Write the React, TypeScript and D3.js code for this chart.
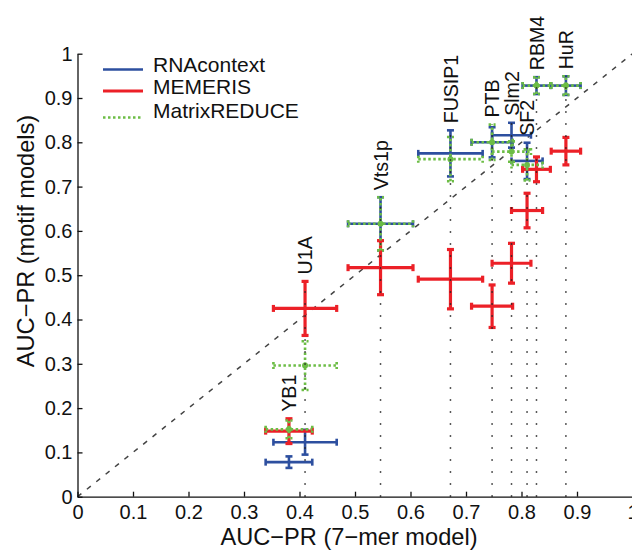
import React, { useEffect, useRef } from 'react';
import * as d3 from 'd3';

// Proteins and their 7-mer model AUC-PR (x) with x error
const proteins = ["YB1", "U1A", "Vts1p", "FUSIP1", "PTB", "Slm2", "SF2", "RBM4", "HuR"];
const kmerAuc = [0.381, 0.410, 0.546, 0.672, 0.747, 0.782, 0.810, 0.827, 0.880];
const kmerErr = [0.042, 0.057, 0.0585, 0.058, 0.037, 0.035, 0.028, 0.025, 0.0265];
const hasGuide = [false, true, true, true, true, true, true, true, true];

// Motif model AUC-PR (y) per method
const rnacontext = [0.078, 0.123, 0.616, 0.775, 0.800, 0.816, 0.758, 0.928, 0.928];
const rnacontextErr = [0.013, 0.028, 0.060, 0.052, 0.034, 0.028, 0.041, 0.019, 0.021];
const memeris = [0.148, 0.425, 0.517, 0.491, 0.430, 0.527, 0.646, 0.739, 0.780];
const memerisErr = [0.028, 0.061, 0.061, 0.067, 0.048, 0.045, 0.039, 0.028, 0.031];
const matrixReduce = [0.152, 0.296, 0.616, 0.762, 0.800, 0.779, 0.749, 0.928, 0.928];
const matrixReduceErr = [0.020, 0.055, 0.060, 0.050, 0.040, 0.023, 0.035, 0.019, 0.021];

const seriesNames = ["RNAcontext", "MEMERIS", "MatrixREDUCE"];
const xTicks = [0, 0.1, 0.2, 0.3, 0.4, 0.5, 0.6, 0.7, 0.8, 0.9, 1];
const yTicks = [0, 0.1, 0.2, 0.3, 0.4, 0.5, 0.6, 0.7, 0.8, 0.9, 1];

const FONT = '"Liberation Sans", Arial, sans-serif';

const App = () => {
    const svgRef = useRef<SVGSVGElement>(null);

    useEffect(() => {
        const svg = d3.select(svgRef.current);
        svg.selectAll("*").remove();

        const width = 632, height = 554;
        const x = d3.scaleLinear().domain([0, 1]).range([77.5, 632.5]);
        const y = d3.scaleLinear().domain([0, 1]).range([496.7, 53.7]);
        const fmt = (d: number) => String(+d.toFixed(1));

        svg.attr("width", width).attr("height", height);

        // Diagonal
        svg.append("line")
            .attr("x1", x(0)).attr("y1", y(0))
            .attr("x2", x(1)).attr("y2", y(1))
            .attr("stroke", "#444").attr("stroke-width", 1.5)
            .attr("stroke-dasharray", "5 7");

        const series = [
            { name: seriesNames[0], vals: rnacontext, errs: rnacontextErr, color: "#2d4f9f", w: 2.6, dash: null, marker: false },
            { name: seriesNames[1], vals: memeris, errs: memerisErr, color: "#ec2027", w: 3.2, dash: null, marker: false },
            { name: seriesNames[2], vals: matrixReduce, errs: matrixReduceErr, color: "#6cbd45", w: 2.6, dash: "2.5 2.5", marker: true },
        ];

        const cap = 3.5;
        series.forEach(s => {
            const g = svg.append("g");
            proteins.forEach((p, i) => {
                const cx = x(kmerAuc[i]), cy = y(s.vals[i]);
                const x0 = x(kmerAuc[i] - kmerErr[i]), x1 = x(kmerAuc[i] + kmerErr[i]);
                const y0 = y(s.vals[i] - s.errs[i]), y1 = y(s.vals[i] + s.errs[i]);
                const segs = [
                    [x0, cy, x1, cy],
                    [cx, y0, cx, y1],
                    [x0, cy - cap, x0, cy + cap],
                    [x1, cy - cap, x1, cy + cap],
                    [cx - cap, y0, cx + cap, y0],
                    [cx - cap, y1, cx + cap, y1],
                ];
                segs.forEach(([a, b, c, d]) => {
                    g.append("line")
                        .attr("x1", a).attr("y1", b).attr("x2", c).attr("y2", d)
                        .attr("stroke", s.color).attr("stroke-width", s.w)
                        .attr("stroke-dasharray", s.dash);
                });
                if (s.marker) {
                    g.append("circle").attr("cx", cx).attr("cy", cy).attr("r", 3).attr("fill", s.color);
                }
            });
        });

        // Guides and labels
        proteins.forEach((p, i) => {
            const top = d3.max(series, s => s.vals[i] + s.errs[i]) as number;
            const cx = x(kmerAuc[i]);
            if (hasGuide[i]) {
                svg.append("line")
                    .attr("x1", cx).attr("y1", y(0))
                    .attr("x2", cx).attr("y2", y(top))
                    .attr("stroke", "#222").attr("stroke-width", 1.5)
                    .attr("stroke-dasharray", "1.5 10.5");
            }
            svg.append("text")
                .attr("transform", `translate(${cx},${y(top) - 7}) rotate(-90)`)
                .attr("dy", "0.36em")
                .attr("font-family", FONT).attr("font-size", 19.6)
                .attr("fill", "#111")
                .text(p);
        });

        // Axes
        const xAxis = svg.append("g")
            .attr("transform", `translate(0,${y(0)})`)
            .call(d3.axisBottom(x).tickValues(xTicks).tickFormat(fmt as any).tickSizeInner(-5).tickSizeOuter(0).tickPadding(8));
        const yAxis = svg.append("g")
            .attr("transform", `translate(${x(0)},0)`)
            .call(d3.axisLeft(y).tickValues(yTicks).tickFormat(fmt as any).tickSizeInner(-5).tickSizeOuter(0).tickPadding(5));
        [xAxis, yAxis].forEach(a => {
            a.select(".domain").attr("stroke", "#111").attr("stroke-width", 1.3);
            a.selectAll(".tick line").attr("stroke", "#111").attr("stroke-width", 1.3);
            a.selectAll("text").attr("font-family", FONT).attr("font-size", 20).attr("fill", "#111");
        });

        svg.append("text")
            .attr("x", 349).attr("y", 545)
            .attr("text-anchor", "middle")
            .attr("font-family", FONT).attr("font-size", 23.6).attr("fill", "#111")
            .text("AUC\u2212PR (7\u2212mer model)");
        svg.append("text")
            .attr("transform", `translate(34,241) rotate(-90)`)
            .attr("text-anchor", "middle")
            .attr("font-family", FONT).attr("font-size", 23.6).attr("fill", "#111")
            .text("AUC\u2212PR (motif models)");

        // Legend
        const legend = svg.append("g").attr("transform", "translate(103,0)");
        const lineYs = [69.5, 91, 117.5];
        const textYs = [71.7, 94, 118.3];
        series.forEach((s, i) => {
            legend.append("line")
                .attr("x1", 0).attr("x2", 40)
                .attr("y1", lineYs[i]).attr("y2", lineYs[i])
                .attr("stroke", s.color).attr("stroke-width", s.w)
                .attr("stroke-dasharray", s.dash);
            legend.append("text")
                .attr("x", 50).attr("y", textYs[i])
                .attr("font-family", FONT).attr("font-size", 21).attr("fill", "#111")
                .text(s.name);
        });
    }, []);

    return (
        <svg ref={svgRef} style={{ position: 'absolute', left: 0, top: 0, background: '#fff' }}></svg>
    );
};

export default App;
